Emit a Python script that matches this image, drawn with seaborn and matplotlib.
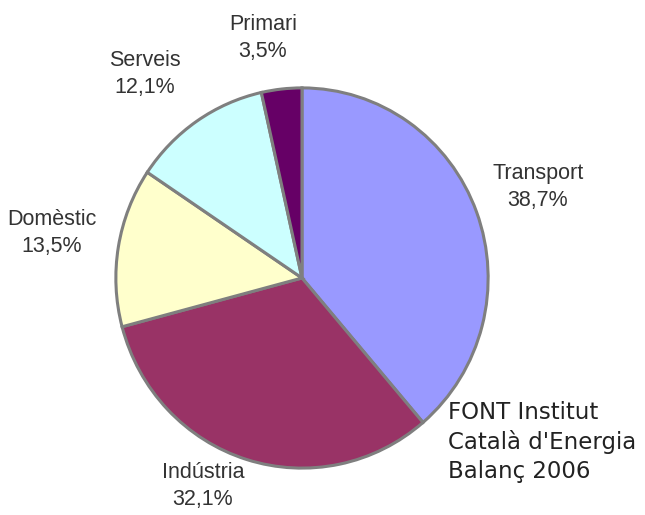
import matplotlib
matplotlib.use("Agg")
import matplotlib.pyplot as plt
import seaborn as sns

# Data
sectors = ["Transport", "Indústria", "Domèstic", "Serveis", "Primari"]
shares = [38.7, 32.1, 13.5, 12.1, 3.5]
source_lines = ["FONT Institut", "Català d'Energia", "Balanç 2006"]

# Styles
slice_colors = ["#9999ff", "#993366", "#ffffcc", "#ccffff", "#660066"]
label_pos = {  # figure-pixel centres (x, y from top)
    "Transport": (538, 187),
    "Indústria": (203, 486),
    "Domèstic": (52, 233),
    "Serveis": (145, 74),
    "Primari": (263, 38),
}

sns.set_theme(style="white")
plt.rcParams["font.family"] = ["Liberation Sans", "DejaVu Sans"]

W, H = 645, 515
fig = plt.figure(figsize=(W / 100, H / 100), dpi=100)
fig.patch.set_facecolor("white")

cx, cy, rx, ry = 302, 278, 188, 192
ax = fig.add_axes([(cx - rx) / W, (H - cy - ry) / H, 2 * rx / W, 2 * ry / H])
palette = sns.color_palette(slice_colors)
ax.pie(shares, colors=palette, startangle=90, counterclock=False,
       wedgeprops=dict(edgecolor="#7f7f7f", linewidth=2.2))
ax.set_aspect("auto")
ax.set_xlim(-1.01, 1.01)
ax.set_ylim(-1.01, 1.01)
ax.axis("off")

for name, val in zip(sectors, shares):
    x, y = label_pos[name]
    txt = f"{name}\n{val:.1f}%".replace(".", ",")
    fig.text(x / W, 1 - y / H, txt, ha="center", va="center",
             fontsize=15.5, color="#333333", linespacing=1.38)

fig.text(448 / W, 1 - 442 / H, "\n".join(source_lines), ha="left", va="center",
         fontsize=16.5, color="#222222", linespacing=1.32,
         family=["DejaVu Sans"])

fig.savefig("out.png", dpi=100, facecolor="white")
